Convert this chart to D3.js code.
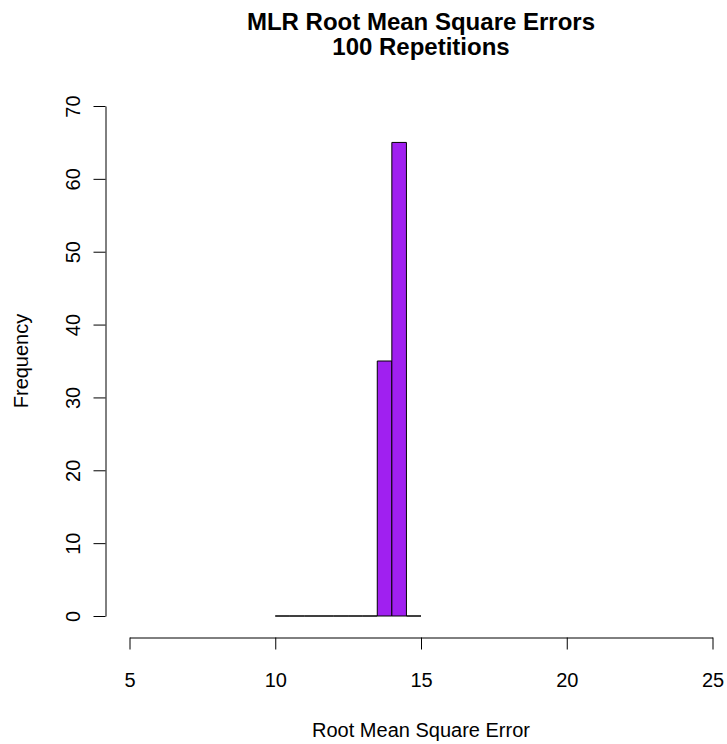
<!DOCTYPE html>
<html>
<head>
<meta charset="utf-8">
<script src="https://cdn.jsdelivr.net/npm/d3@7"></script>
<style>
  body { margin: 0; background: #fff; }
  svg text { font-family: "Liberation Sans", Arial, sans-serif; fill: #000; }
</style>
</head>
<body>
<svg id="chart" width="727" height="744"></svg>
<script>
// histogram of RMSE over 100 repetitions (R hist style, breaks every 0.5)
const binStarts = [10, 10.5, 11, 11.5, 12, 12.5, 13, 13.5, 14, 14.5];
const binEnds   = [10.5, 11, 11.5, 12, 12.5, 13, 13.5, 14, 14.5, 15];
const counts    = [0, 0, 0, 0, 0, 0, 0, 35, 65, 0];
const xTicks = [5, 10, 15, 20, 25];
const yTicks = [0, 10, 20, 30, 40, 50, 60, 70];
const titleLines = ["MLR Root Mean Square Errors", "100 Repetitions"];
const xTitle = "Root Mean Square Error";
const yTitle = "Frequency";

const svg = d3.select("#chart");

const x = d3.scaleLinear().domain([5, 25]).range([129.5, 712.5]);
const y = d3.scaleLinear().domain([0, 70]).range([616, 106]);

// bars as closed paths so empty bins still show as a flat line (like R)
const bins = binStarts.map((s, i) => ({ x0: s, x1: binEnds[i], n: counts[i] }));
svg.append("g")
  .selectAll("path")
  .data(bins)
  .join("path")
  .attr("d", d => {
    const p = d3.path();
    p.moveTo(x(d.x0), y(0));
    p.lineTo(x(d.x0), y(d.n));
    p.lineTo(x(d.x1), y(d.n));
    p.lineTo(x(d.x1), y(0));
    p.closePath();
    return p.toString();
  })
  .attr("fill", "#a020f0")
  .attr("stroke", "#000")
  .attr("stroke-width", 1);

// x axis, detached below the plot
const gx = svg.append("g")
  .attr("transform", "translate(0,637.5)")
  .call(d3.axisBottom(x).tickValues(xTicks).tickSize(12).tickSizeOuter(0).tickPadding(0));
gx.selectAll("text")
  .attr("y", 49).attr("dy", 0)
  .style("font-size", "20px");

// y axis, labels rotated as in base R
const gy = svg.append("g")
  .attr("transform", "translate(105.5,0)")
  .call(d3.axisLeft(y).tickValues(yTicks).tickSize(12).tickSizeOuter(0));
gy.selectAll("text")
  .attr("transform", "rotate(-90)")
  .attr("x", 0).attr("y", -26).attr("dy", 0)
  .attr("text-anchor", "middle")
  .style("font-size", "20px");

svg.selectAll(".domain, .tick line").attr("stroke", "#000").attr("stroke-width", 1);
svg.selectAll(".tick text").attr("fill", "#000");

// titles
svg.selectAll("text.title")
  .data(titleLines)
  .join("text")
  .attr("class", "title")
  .attr("x", 421).attr("y", (d, i) => 30 + i * 25)
  .attr("text-anchor", "middle")
  .style("font-size", "24px")
  .style("font-weight", "bold")
  .text(d => d);

svg.append("text")
  .attr("x", 421).attr("y", 737)
  .attr("text-anchor", "middle")
  .style("font-size", "20px")
  .text(xTitle);

svg.append("text")
  .attr("transform", "translate(28,361) rotate(-90)")
  .attr("text-anchor", "middle")
  .style("font-size", "20px")
  .text(yTitle);
</script>
</body>
</html>
